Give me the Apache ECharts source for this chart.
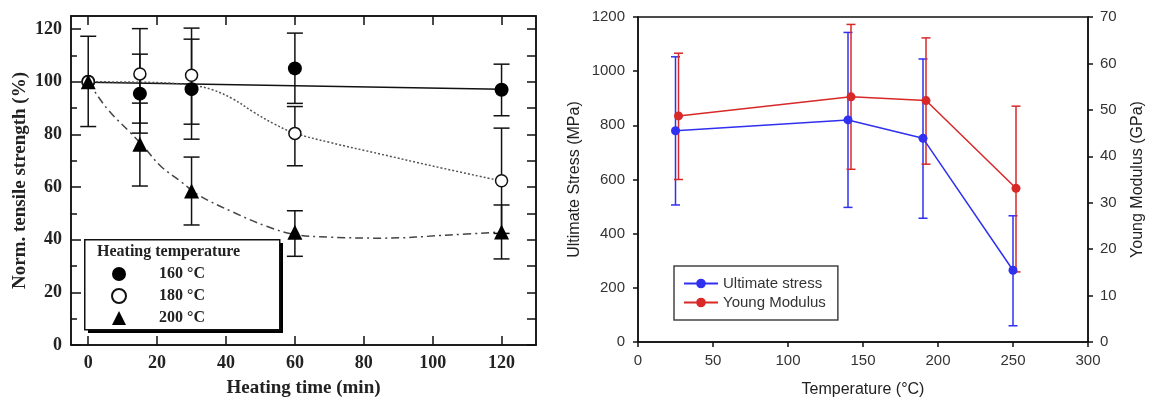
<!DOCTYPE html>
<html><head><meta charset="utf-8">
<script src="https://cdn.jsdelivr.net/npm/echarts@6/dist/echarts.min.js"></script>
<style>html,body{margin:0;padding:0;background:#fff}#c{width:1151px;height:403px}</style>
</head><body><div id="c"></div>
<script>
// ---------- Left chart data ----------
const times = [0, 15, 30, 60, 120];
const s160 = [100, 95.5, 97.2, 105.1, 97.0];
const s180 = [100, 103.0, 102.5, 80.4, 62.4];
const s200 = [100, 76.3, 58.5, 42.8, 42.9];
const e160 = [[83.0, 117.3], [80.5, 110.5], [78.2, 116.2], [91.8, 118.5], [87.1, 106.7]];
const e180 = [null, [84.3, 120.2], [83.9, 120.4], [68.1, 90.6], [42.4, 82.4]];
const e200 = [null, [60.4, 91.9], [45.6, 71.4], [33.7, 51.0], [32.7, 53.2]];
const fit160 = [[0, 99.8], [120, 97.2]];
const fit180 = [[0, 100], [20, 99.7], [30, 98.7], [36, 97], [42, 93.5], [48, 88.5], [54, 84], [60, 80.5], [70, 77], [85, 72.5], [100, 68], [120, 62.3]];
const fit200 = [[0, 100], [1.5, 97], [6, 89], [12, 81], [16, 75.5], [21, 68], [27, 62], [32, 57], [42, 50.5], [52, 45], [60, 42], [70, 41], [85, 40.6], [105, 41.8], [120, 43]];
const leftXTicks = [0, 20, 40, 60, 80, 100, 120];
const leftYTicks = [0, 20, 40, 60, 80, 100, 120];
const leftYMinor = [10, 30, 50, 70, 90, 110];
const rightFrameTicks = [0, 10, 20, 30, 40, 50, 60, 70, 80, 90, 100, 110, 120];
const leftLegend = ['160 °C', '180 °C', '200 °C'];

// ---------- Right chart data ----------
const tempStress = [25, 140, 190, 250];
const stress = [780, 820, 752, 265];
const stressErr = [[506, 1053], [497, 1143], [457, 1045], [60, 466]];
const tempModulus = [27, 142, 192, 252];
const modulus = [48.7, 52.8, 52.0, 33.1];
const modulusErr = [[35.0, 62.2], [37.2, 68.4], [38.3, 65.5], [15.1, 50.8]];

const SERIF = "'Liberation Serif','Times New Roman',serif";
const SANS = "'Liberation Sans',Arial,sans-serif";
const BLUE = '#3030f0';
const RED = '#d82828';

function pts(xs, ys) { return xs.map((x, i) => [x, ys[i]]); }
function errData(xs, es) { const out = []; xs.forEach((x, i) => { if (es[i]) out.push([x, es[i][0], es[i][1]]); }); return out; }
function errRender(color, half, lw) {
  return function (params, api) {
    const x = api.value(0), lo = api.value(1), hi = api.value(2);
    const p1 = api.coord([x, lo]), p2 = api.coord([x, hi]);
    const st = { stroke: color, lineWidth: lw };
    return { type: 'group', children: [
      { type: 'line', shape: { x1: p1[0], y1: p1[1], x2: p2[0], y2: p2[1] }, style: st },
      { type: 'line', shape: { x1: p1[0] - half, y1: p1[1], x2: p1[0] + half, y2: p1[1] }, style: st },
      { type: 'line', shape: { x1: p2[0] - half, y1: p2[1], x2: p2[0] + half, y2: p2[1] }, style: st }
    ] };
  };
}
function errSeries(xi, yi, data, color, half, lw) {
  return { type: 'custom', xAxisIndex: xi, yAxisIndex: yi, data: data, renderItem: errRender(color, half, lw),
    encode: { x: 0, y: [1, 2] }, silent: true, z: 3 };
}

const chart = echarts.init(document.getElementById('c'), null, { renderer: 'canvas' });
const lineAx = { show: true, onZero: false, lineStyle: { color: '#111', width: 1.5 } };
const noLine = { show: false, onZero: false };
const leftLabel = { fontFamily: SERIF, fontWeight: 'bold', fontSize: 18, color: '#222' };
const plain = v => String(v);

chart.setOption({
  animation: false,
  backgroundColor: '#fff',
  grid: [
    { left: 71, top: 16, width: 465, height: 330, show: true, borderColor: '#111', borderWidth: 1.5, backgroundColor: 'transparent' },
    { left: 638, top: 17, width: 450, height: 325, show: true, borderColor: '#111', borderWidth: 1.5, backgroundColor: 'transparent' }
  ],
  xAxis: [
    { gridIndex: 0, type: 'value', position: 'bottom', min: -5, max: 130, axisLine: lineAx, splitLine: { show: false },
      axisTick: { inside: true, length: 9, customValues: leftXTicks, lineStyle: { width: 1.5, color: '#111' } },
      axisLabel: Object.assign({ customValues: leftXTicks, margin: 9 }, leftLabel),
      name: 'Heating time (min)', nameLocation: 'middle', nameGap: 34,
      nameTextStyle: { fontFamily: SERIF, fontWeight: 'bold', fontSize: 19, color: '#222' } },
    { gridIndex: 0, type: 'value', position: 'top', min: -5, max: 130, axisLine: lineAx, splitLine: { show: false },
      axisTick: { inside: true, length: 9, customValues: leftXTicks, lineStyle: { width: 1.5, color: '#111' } },
      axisLabel: { show: false } },
    { gridIndex: 1, type: 'value', position: 'bottom', min: 0, max: 300, interval: 50, axisLine: lineAx, splitLine: { show: false },
      axisTick: { inside: false, length: 5, lineStyle: { width: 1.5, color: '#111' } },
      axisLabel: { fontFamily: SANS, fontSize: 15, color: '#333', margin: 11, formatter: plain },
      name: 'Temperature (°C)', nameLocation: 'middle', nameGap: 40,
      nameTextStyle: { fontFamily: SANS, fontSize: 16, color: '#222' } }
  ],
  yAxis: [
    { gridIndex: 0, type: 'value', position: 'left', min: 0, max: 125, axisLine: lineAx, splitLine: { show: false },
      axisTick: { inside: true, length: 10, customValues: leftYTicks, lineStyle: { width: 1.5, color: '#111' } },
      axisLabel: Object.assign({ customValues: leftYTicks, margin: 9 }, leftLabel),
      name: 'Norm. tensile strength (%)', nameLocation: 'middle', nameGap: 41,
      nameTextStyle: { fontFamily: SERIF, fontWeight: 'bold', fontSize: 19, color: '#222' } },
    { gridIndex: 0, type: 'value', position: 'left', min: 0, max: 125, axisLine: noLine, splitLine: { show: false },
      axisTick: { inside: true, length: 6, customValues: leftYMinor, lineStyle: { width: 1.5, color: '#111' } },
      axisLabel: { show: false } },
    { gridIndex: 0, type: 'value', position: 'right', min: 0, max: 125, axisLine: lineAx, splitLine: { show: false },
      axisTick: { inside: true, length: 9, customValues: rightFrameTicks, lineStyle: { width: 1.5, color: '#111' } },
      axisLabel: { show: false } },
    { gridIndex: 1, type: 'value', position: 'left', min: 0, max: 1200, interval: 200, axisLine: lineAx, splitLine: { show: false },
      axisTick: { inside: false, length: 5, lineStyle: { width: 1.5, color: '#111' } },
      axisLabel: { fontFamily: SANS, fontSize: 15, color: '#333', margin: 13, formatter: plain },
      name: 'Ultimate Stress (MPa)', nameLocation: 'middle', nameGap: 55,
      nameTextStyle: { fontFamily: SANS, fontSize: 16, color: '#222' } },
    { gridIndex: 1, type: 'value', position: 'right', min: 0, max: 70, interval: 10, axisLine: lineAx, splitLine: { show: false },
      axisTick: { inside: false, length: 5, lineStyle: { width: 1.5, color: '#111' } },
      axisLabel: { fontFamily: SANS, fontSize: 15, color: '#333', margin: 12, formatter: plain },
      name: 'Young Modulus (GPa)', nameLocation: 'middle', nameGap: 42, nameRotate: 90,
      nameTextStyle: { fontFamily: SANS, fontSize: 16, color: '#222' } }
  ],
  legend: [
    { data: leftLegend, orient: 'vertical', left: 111, top: 266, itemWidth: 14, itemHeight: 14, itemGap: 6, z: 20,
      textStyle: { fontFamily: SERIF, fontWeight: 'bold', fontSize: 16, color: '#222', padding: [0, 0, 0, 28] },
      selectedMode: false, padding: 0 },
    { data: ['Ultimate stress', 'Young Modulus'], orient: 'vertical', left: 674, top: 266, itemWidth: 34, itemHeight: 12, itemGap: 4,
      padding: [10, 12, 10, 9], borderColor: '#444', borderWidth: 1.5, backgroundColor: '#fff', z: 20,
      textStyle: { fontFamily: SANS, fontSize: 15, color: '#333' }, selectedMode: false }
  ],
  graphic: [
    { type: 'rect', left: 88, top: 243, shape: { width: 195, height: 90 }, style: { fill: '#000' }, z: 1 },
    { type: 'rect', left: 84, top: 239, shape: { width: 195, height: 90 }, style: { fill: '#fff', stroke: '#111', lineWidth: 1.5 }, z: 2 },
    { type: 'text', left: 97, top: 244, style: { text: 'Heating temperature', font: "bold 16px 'Liberation Serif'", fill: '#222' }, z: 3 }
  ],
  series: [
    { type: 'line', xAxisIndex: 0, yAxisIndex: 0, data: fit160, showSymbol: false, silent: true, lineStyle: { color: '#111', width: 1.5 }, z: 2 },
    { type: 'line', xAxisIndex: 0, yAxisIndex: 0, data: fit180, smooth: 0.4, showSymbol: false, silent: true, lineStyle: { color: '#555', width: 1.5, type: [2, 2] }, z: 2 },
    { type: 'line', xAxisIndex: 0, yAxisIndex: 0, data: fit200, smooth: 0.4, showSymbol: false, silent: true, lineStyle: { color: '#444', width: 1.5, type: [8, 4, 2, 4] }, z: 2 },
    errSeries(0, 0, errData(times, e160), '#111', 8, 1.5),
    errSeries(0, 0, errData(times, e180), '#111', 8, 1.5),
    errSeries(0, 0, errData(times, e200), '#111', 8, 1.5),
    { name: '160 °C', type: 'scatter', xAxisIndex: 0, yAxisIndex: 0, data: pts(times, s160), symbol: 'circle', symbolSize: 14,
      itemStyle: { color: '#000', opacity: 1 }, z: 10 },
    { name: '180 °C', type: 'scatter', xAxisIndex: 0, yAxisIndex: 0, data: pts(times, s180), symbol: 'circle', symbolSize: 12,
      itemStyle: { color: '#fff', borderColor: '#111', borderWidth: 1.5, opacity: 1 }, z: 10 },
    { name: '200 °C', type: 'scatter', xAxisIndex: 0, yAxisIndex: 0, data: pts(times, s200), symbol: 'triangle', symbolSize: 15,
      itemStyle: { color: '#000', opacity: 1 }, z: 10 },
    errSeries(2, 3, errData(tempStress, stressErr), BLUE, 4.5, 1.5),
    errSeries(2, 4, errData(tempModulus, modulusErr), RED, 4.5, 1.5),
    { name: 'Ultimate stress', type: 'line', xAxisIndex: 2, yAxisIndex: 3, data: pts(tempStress, stress), symbol: 'circle', symbolSize: 9,
      lineStyle: { color: BLUE, width: 1.5 }, itemStyle: { color: BLUE }, z: 5 },
    { name: 'Young Modulus', type: 'line', xAxisIndex: 2, yAxisIndex: 4, data: pts(tempModulus, modulus), symbol: 'circle', symbolSize: 9,
      lineStyle: { color: RED, width: 1.5 }, itemStyle: { color: RED }, z: 5 }
  ]
});
</script>
</body></html>
